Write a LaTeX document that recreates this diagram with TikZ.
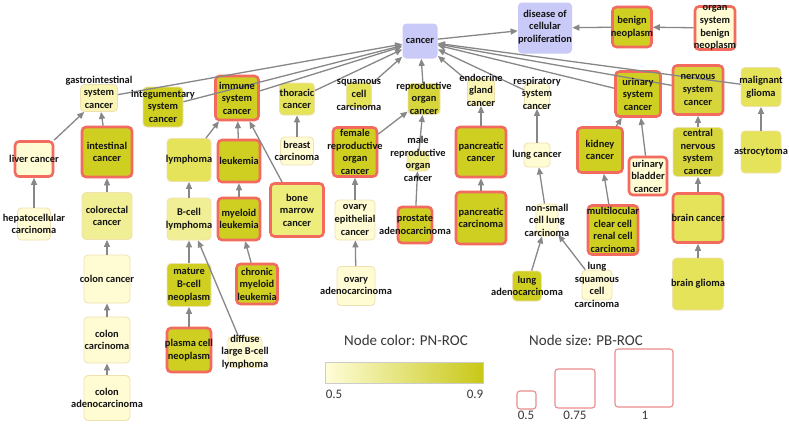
\documentclass[tikz,border=0pt]{standalone}
\usepackage{fontspec}
\setmainfont{Carlito}
\usetikzlibrary{arrows.meta}
\definecolor{lav}{HTML}{CACAF8}
\definecolor{pale}{HTML}{FFFCD4}
\definecolor{paleB}{HTML}{FAF5B5}
\definecolor{lightY}{HTML}{F1EF95}
\definecolor{boneY}{HTML}{EDED7C}
\definecolor{med}{HTML}{E5E35A}
\definecolor{olive}{HTML}{CFCF22}
\definecolor{oliveB}{HTML}{D7D53C}
\definecolor{hitred}{HTML}{F26B5E}
\definecolor{tan}{HTML}{EFE0B0}
\definecolor{edgegray}{HTML}{878787}
\definecolor{txt}{HTML}{141414}
\definecolor{legred}{HTML}{E88C8C}
\definecolor{barL}{HTML}{FFFDD8}
\definecolor{barR}{HTML}{C8C818}
\tikzset{
  box/.style={rectangle, rounded corners=4pt, inner sep=0pt, draw=tan, line width=0.8pt},
  hit/.style={draw=hitred, line width=2.6pt},
  lbl/.style={font=\bfseries\fontsize{10.4}{12.6}\selectfont, align=center, text=txt, inner sep=0pt},
  ed/.style={draw=edgegray, line width=1.3pt, -{Triangle[length=7pt,width=6pt]}},
  legsq/.style={rectangle, rounded corners=3pt, inner sep=0pt, draw=legred, line width=1.1pt},
  legtitle/.style={font=\fontsize{15}{18}\selectfont, text=txt!85, inner sep=0pt},
  legnum/.style={font=\fontsize{13}{15}\selectfont, text=txt!85, inner sep=0pt}
}
\newcommand{\bx}[6]{\node[box, fill=#6, minimum width=#4pt, minimum height=#5pt] (#1) at (#2,#3) {};}
\newcommand{\hx}[6]{\node[box, hit, fill=#6, minimum width=#4pt, minimum height=#5pt] (#1) at (#2,#3) {};}
\begin{document}
\begin{tikzpicture}[x=1pt,y=-1pt]
\fill[white] (0,0) rectangle (789,423);
\useasboundingbox (0,0) rectangle (789,423);
% top
\node[box, draw=none, fill=lav, minimum width=35pt, minimum height=35pt] (cancer) at (420,41) {};
\node[box, draw=none, fill=lav, minimum width=54pt, minimum height=51pt] (disease) at (545,28) {};
\hx{benign}{632}{27}{39}{40}{olive}
\hx{orgben}{715}{28}{40}{43}{pale}
% row 2
\bx{gastro}{99}{98}{37}{27}{paleB}
\bx{integ}{163}{107}{40}{40}{olive}
\hx{immune}{237}{98}{43}{44}{olive}
\bx{thor}{297}{99}{35}{32}{med}
\bx{squam}{359}{95}{25}{25}{med}
\bx{repro}{424}{99}{32}{31}{oliveB}
\bx{endo}{481}{92}{27}{27}{paleB}
\bx{resp}{537}{96}{25}{25}{pale}
\hx{urin}{638}{94}{45}{45}{olive}
\hx{nerv}{698}{90}{50}{49}{oliveB}
\bx{malg}{761}{87}{40}{39}{med}
% row 3
\hx{liver}{34}{159}{38}{35}{pale}
\hx{intest}{107}{152}{50}{50}{olive}
\bx{lymph}{189}{160}{44}{43}{med}
\hx{leuk}{239}{161}{42}{42}{olive}
\bx{breast}{297}{151}{33}{28}{pale}
\hx{bone}{297}{210}{53}{53}{boneY}
\hx{female}{355}{152}{44}{49}{olive}
\bx{male}{418}{161}{22}{20}{lightY}
\hx{panc}{481}{152}{50}{50}{olive}
\bx{lungc}{537}{155}{26}{24}{pale}
\hx{kidney}{600}{150}{45}{45}{olive}
\hx{bladder}{648}{176}{38}{38}{pale}
\bx{cns}{698}{152}{50}{49}{oliveB}
\bx{astro}{761}{152}{40}{42}{med}
% row 4
\bx{hepato}{34}{224}{33}{32}{pale}
\bx{colorec}{107}{216}{50}{47}{lightY}
\bx{bcell}{189}{219}{44}{42}{lightY}
\hx{myel}{239}{219}{42}{42}{olive}
\bx{ovep}{355}{220}{40}{40}{pale}
\hx{prost}{415}{225}{34}{36}{olive}
\hx{pancc}{481}{218}{50}{52}{olive}
\bx{nsclc}{547}{220}{22}{32}{pale}
\hx{multi}{613}{230}{50}{49}{olive}
\hx{brainc}{698}{218}{50}{49}{med}
% row 5
\bx{colonc}{107}{279}{46}{48}{pale}
\bx{mbcell}{189}{285}{44}{43}{olive}
\hx{cml}{257}{284}{41}{40}{olive}
\bx{ovad}{356}{286}{38}{39}{pale}
\bx{lungad}{527}{286}{29}{30}{olive}
\bx{lsq}{597}{285}{30}{30}{pale}
\bx{glioma}{698}{284}{51}{52}{med}
% row 6-7
\bx{coloncarc}{107}{340}{46}{46}{pale}
\hx{plasma}{189}{350}{44}{44}{olive}
\bx{diffuse}{245}{352}{34}{31}{pale}
\bx{colonad}{107}{398}{46}{45}{pale}
% edges
\draw[ed] (cancer) -- (disease);
\draw[ed] (benign) -- (disease);
\draw[ed] (orgben) -- (benign);
\foreach \s in {gastro,integ,immune,thor,squam,repro,endo,resp,urin,nerv,malg}
  \draw[ed] (\s) -- (cancer);
\draw[ed] (liver) -- (gastro);
\draw[ed] (intest) -- (gastro);
\draw[ed] (hepato) -- (liver);
\draw[ed] (colorec) -- (intest);
\draw[ed] (colonc) -- (colorec);
\draw[ed] (coloncarc) -- (colonc);
\draw[ed] (colonad) -- (coloncarc);
\draw[ed] (lymph) -- (immune);
\draw[ed] (leuk) -- (immune);
\draw[ed] (bone) -- (immune);
\draw[ed] (bcell) -- (lymph);
\draw[ed] (myel) -- (leuk);
\draw[ed] (mbcell) -- (bcell);
\draw[ed] (diffuse) -- (bcell);
\draw[ed] (cml) -- (myel);
\draw[ed] (plasma) -- (mbcell);
\draw[ed] (breast) -- (thor);
\draw[ed] (female) -- (repro);
\draw[ed] (male) -- (repro);
\draw[ed] (ovep) -- (female);
\draw[ed] (ovad) -- (ovep);
\draw[ed] (prost) -- (male);
\draw[ed] (panc) -- (endo);
\draw[ed] (pancc) -- (panc);
\draw[ed] (lungc) -- (resp);
\draw[ed] (nsclc) -- (lungc);
\draw[ed] (lungad) -- (nsclc);
\draw[ed] (lsq) -- (nsclc);
\draw[ed] (kidney) -- (urin);
\draw[ed] (bladder) -- (urin);
\draw[ed] (multi) -- (kidney);
\draw[ed] (cns) -- (nerv);
\draw[ed] (brainc) -- (cns);
\draw[ed] (glioma) -- (brainc);
\draw[ed] (astro) -- (malg);
% labels
\node[lbl] (cancer-t) at (cancer) {cancer};
\node[lbl] (disease-t) at (545,27) {disease of\\cellular\\proliferation};
\node[lbl] (benign-t) at (benign) {benign\\neoplasm};
\node[lbl] (orgben-t) at (715,28) {organ\\system\\benign\\neoplasm};
\node[lbl] (gastro-t) at (99,92) {gastrointestinal\\system\\cancer};
\node[lbl] (integ-t) at (163,106) {integumentary\\system\\cancer};
\node[lbl] (immune-t) at (immune) {immune\\system\\cancer};
\node[lbl] (thor-t) at (thor) {thoracic\\cancer};
\node[lbl] (squam-t) at (squam) {squamous\\cell\\carcinoma};
\node[lbl] (repro-t) at (424,98) {reproductive\\organ\\cancer};
\node[lbl] (endo-t) at (481,90) {endocrine\\gland\\cancer};
\node[lbl] (resp-t) at (537,93) {respiratory\\system\\cancer};
\node[lbl] (urin-t) at (urin) {urinary\\system\\cancer};
\node[lbl] (nerv-t) at (nerv) {nervous\\system\\cancer};
\node[lbl] (malg-t) at (malg) {malignant\\glioma};
\node[lbl] (liver-t) at (liver) {liver cancer};
\node[lbl] (intest-t) at (intest) {intestinal\\cancer};
\node[lbl] (lymph-t) at (lymph) {lymphoma};
\node[lbl] (leuk-t) at (leuk) {leukemia};
\node[lbl] (breast-t) at (breast) {breast\\carcinoma};
\node[lbl] (bone-t) at (bone) {bone\\marrow\\cancer};
\node[lbl] (female-t) at (female) {female\\reproductive\\organ\\cancer};
\node[lbl] (male-t) at (418,159) {male\\reproductive\\organ\\cancer};
\node[lbl] (panc-t) at (panc) {pancreatic\\cancer};
\node[lbl] (lungc-t) at (lungc) {lung cancer};
\node[lbl] (kidney-t) at (kidney) {kidney\\cancer};
\node[lbl] (bladder-t) at (bladder) {urinary\\bladder\\cancer};
\node[lbl] (cns-t) at (cns) {central\\nervous\\system\\cancer};
\node[lbl] (astro-t) at (astro) {astrocytoma};
\node[lbl] (hepato-t) at (hepato) {hepatocellular\\carcinoma};
\node[lbl] (colorec-t) at (colorec) {colorectal\\cancer};
\node[lbl] (bcell-t) at (bcell) {B-cell\\lymphoma};
\node[lbl] (myel-t) at (myel) {myeloid\\leukemia};
\node[lbl] (ovep-t) at (ovep) {ovary\\epithelial\\cancer};
\node[lbl] (prost-t) at (prost) {prostate\\adenocarcinoma};
\node[lbl] (pancc-t) at (pancc) {pancreatic\\carcinoma};
\node[lbl] (nsclc-t) at (nsclc) {non-small\\cell lung\\carcinoma};
\node[lbl] (multi-t) at (multi) {multilocular\\clear cell\\renal cell\\carcinoma};
\node[lbl] (brainc-t) at (brainc) {brain cancer};
\node[lbl] (colonc-t) at (colonc) {colon cancer};
\node[lbl] (mbcell-t) at (mbcell) {mature\\B-cell\\neoplasm};
\node[lbl] (cml-t) at (cml) {chronic\\myeloid\\leukemia};
\node[lbl] (ovad-t) at (ovad) {ovary\\adenocarcinoma};
\node[lbl] (lungad-t) at (lungad) {lung\\adenocarcinoma};
\node[lbl] (lsq-t) at (lsq) {lung\\squamous\\cell\\carcinoma};
\node[lbl] (glioma-t) at (glioma) {brain glioma};
\node[lbl] (coloncarc-t) at (coloncarc) {colon\\carcinoma};
\node[lbl] (plasma-t) at (plasma) {plasma cell\\neoplasm};
\node[lbl] (diffuse-t) at (diffuse) {diffuse\\large B-cell\\lymphoma};
\node[lbl] (colonad-t) at (colonad) {colon\\adenocarcinoma};
% legend
\node[legtitle] (lt1) at (406,340) {Node color: PN-ROC};
\shade[left color=barL, right color=barR] (325,362) rectangle (483,383);
\draw[draw=black!20, line width=0.6pt] (325,362) rectangle (483,383);
\node[legnum] (n05) at (334,394) {0.5};
\node[legnum] (n09) at (475,394) {0.9};
\node[legtitle] (lt2) at (586,340) {Node size: PB-ROC};
\node[legsq, minimum width=19pt, minimum height=18pt] (s1) at (526.5,400) {};
\node[legsq, minimum width=40pt, minimum height=39pt] (s2) at (575,388.5) {};
\node[legsq, minimum width=58pt, minimum height=58pt] (s3) at (644,378) {};
\node[legnum] (m1) at (526,415) {0.5};
\node[legnum] (m2) at (575,415) {0.75};
\node[legnum] (m3) at (645,415) {1};
\end{tikzpicture}
\end{document}
